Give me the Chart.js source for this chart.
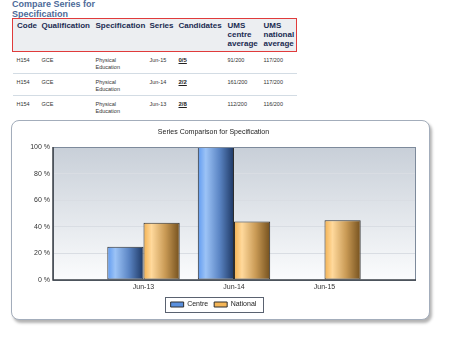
<!DOCTYPE html>
<html>
<head>
<meta charset="utf-8">
<script src="https://cdn.jsdelivr.net/npm/chart.js@4/dist/chart.umd.min.js"></script>
<style>
  body { margin: 0; background: #fff; width: 450px; height: 338px; position: relative; overflow: hidden; font-family: "Liberation Sans", Arial, sans-serif; }
  #heading { position: absolute; left: 12px; top: 0px; font-size: 9px; line-height: 9.5px; font-weight: bold; color: #4d6a99; }
  #specTable { position: absolute; left: 12px; top: 18px; border-collapse: collapse; table-layout: fixed; width: 284px; }
  #specTable th { font-size: 8px; line-height: 9px; font-weight: bold; color: #1b2b52; text-align: left; vertical-align: top;
    padding: 2px 0 3px 4px; background: #eceef1; border-top: 1.5px solid #e03b3b; border-bottom: 1.5px solid #e03b3b; }
  #specTable th:first-child { border-left: 1.5px solid #e03b3b; }
  #specTable th:last-child { border-right: 1.5px solid #e03b3b; }
  #specTable td { font-size: 5.5px; line-height: 7px; color: #333; vertical-align: top; padding: 5px 0 0 4px; height: 16px; }
  #specTable tr.sep td { border-bottom: 1px solid #d3dce4; }
  #specTable td.cand { font-weight: bold; text-decoration: underline; color: #222; font-size: 6px; }
  #panel { position: absolute; left: 11px; top: 120px; width: 417px; height: 198px; border: 1px solid #a3adbb; border-radius: 8px;
    box-shadow: 2px 3px 3px rgba(0,0,0,0.3); background: #fff; }
  #panel canvas { position: absolute; left: 0; top: 0; }
</style>
</head>
<body>
<div id="heading">Compare Series for<br>Specification</div>
<table id="specTable">
  <colgroup>
    <col style="width:25px"><col style="width:54px"><col style="width:54px"><col style="width:29px">
    <col style="width:49px"><col style="width:36px"><col style="width:37px">
  </colgroup>
  <thead>
    <tr><th>Code</th><th>Qualification</th><th>Specification</th><th>Series</th><th>Candidates</th><th>UMS centre average</th><th>UMS national average</th></tr>
  </thead>
  <tbody id="rows"></tbody>
</table>
<div id="panel"><canvas id="seriesChart" width="417" height="198"></canvas></div>
<script>
// table data
const rowSeries = ['Jun-15', 'Jun-14', 'Jun-13'];
const rowCandidates = ['0/5', '2/2', '2/8'];
const rowCentreUms = ['91/200', '161/200', '112/200'];
const rowNationalUms = ['117/200', '117/200', '116/200'];

// chart data
const categories = ['Jun-13', 'Jun-14', 'Jun-15'];
const centreValues = [25, 100, 0];
const nationalValues = [43, 44, 45];
const yTicks = [0, 20, 40, 60, 80, 100];

const tbody = document.getElementById('rows');
rowSeries.forEach((s, i) => {
    const tr = document.createElement('tr');
    if (i < rowSeries.length - 1) tr.className = 'sep';
    tr.innerHTML = '<td>H154</td><td>GCE</td><td>Physical<br>Education</td><td>' + s + '</td><td class="cand">' +
        rowCandidates[i] + '</td><td>' + rowCentreUms[i] + '</td><td>' + rowNationalUms[i] + '</td>';
    tbody.appendChild(tr);
});

// empty slot either side so categories sit on the 1/4 marks
const labels = [''].concat(categories, ['']);
const pad = arr => [null].concat(arr, [null]);

const barColours = [
    { solid: '#5a90de', stops: ['#5f9af0', '#9cc3f6', '#5b85c4', '#1d3763'] },
    { solid: '#f5b657', stops: ['#f3b150', '#ffd99c', '#c99a55', '#74501d'] }
];

function barFill(ctx) {
    const c = barColours[ctx.datasetIndex];
    if (ctx.type !== 'data') return c.solid;
    const chart = ctx.chart;
    const x = chart.scales.x;
    if (!x || !chart.chartArea) return c.solid;
    const centre = x.getPixelForValue(ctx.dataIndex);
    const step = x.getPixelForValue(1) - x.getPixelForValue(0);
    const w = step * 0.8 / 2;
    const left = ctx.datasetIndex === 0 ? centre - w : centre;
    const g = chart.ctx.createLinearGradient(left, 0, left + w, 0);
    g.addColorStop(0, c.stops[0]);
    g.addColorStop(0.22, c.stops[1]);
    g.addColorStop(0.6, c.stops[2]);
    g.addColorStop(1, c.stops[3]);
    return g;
}

const plotBackground = {
    id: 'plotBackground',
    beforeDraw(chart) {
        const { ctx, chartArea: a } = chart;
        const g = ctx.createLinearGradient(0, a.top, 0, a.bottom);
        g.addColorStop(0, '#c8cfd8');
        g.addColorStop(1, '#fbfcfd');
        ctx.save();
        ctx.fillStyle = g;
        ctx.fillRect(a.left, a.top, a.right - a.left, a.bottom - a.top);
        ctx.restore();
    },
    afterDatasetsDraw(chart) {
        const { ctx, chartArea: a } = chart;
        ctx.save();
        ctx.strokeStyle = '#7d8a9b';
        ctx.lineWidth = 1;
        ctx.strokeRect(a.left + 0.5, a.top + 0.5, a.right - a.left, a.bottom - a.top);
        ctx.strokeStyle = '#3d4148';
        ctx.lineWidth = 1.5;
        ctx.beginPath();
        ctx.moveTo(a.left, a.top);
        ctx.lineTo(a.left, a.bottom);
        ctx.lineTo(a.right + 1, a.bottom);
        ctx.stroke();
        ctx.restore();
    },
    afterDraw(chart) {
        const boxes = chart.legend && chart.legend.legendHitBoxes;
        if (!boxes || !boxes.length) return;
        const l = Math.min(...boxes.map(b => b.left)) - 6;
        const r = Math.max(...boxes.map(b => b.left + b.width)) + 6;
        const t = Math.min(...boxes.map(b => b.top)) - 4;
        const bt = Math.max(...boxes.map(b => b.top + b.height)) + 4;
        const ctx = chart.ctx;
        ctx.save();
        ctx.strokeStyle = '#5a6270';
        ctx.lineWidth = 1;
        ctx.strokeRect(Math.round(l) + 0.5, Math.round(t) + 0.5, Math.round(r - l), Math.round(bt - t));
        ctx.restore();
    }
};

const barStyle = {
    backgroundColor: barFill,
    borderColor: '#2e2e2e',
    borderWidth: ctx => (ctx.raw === 0 ? 0 : 1),
    borderSkipped: false
};

new Chart(document.getElementById('seriesChart'), {
    type: 'bar',
    data: {
        labels: labels,
        datasets: [
            Object.assign({ label: 'Centre', data: pad(centreValues) }, barStyle),
            Object.assign({ label: 'National', data: pad(nationalValues) }, barStyle)
        ]
    },
    options: {
        responsive: false,
        animation: false,
        devicePixelRatio: 1,
        categoryPercentage: 0.8,
        barPercentage: 1.0,
        layout: { padding: { left: 0, right: 14, top: 0, bottom: 1 } },
        scales: {
            x: {
                offset: false,
                grid: { display: false, drawTicks: false },
                border: { display: false },
                ticks: { color: '#333', font: { family: 'Liberation Sans', size: 7 }, padding: 3, maxRotation: 0, autoSkip: false },
                afterFit(scale) { scale.height = 15; }
            },
            y: {
                min: 0,
                max: 100,
                afterBuildTicks(scale) { scale.ticks = yTicks.map(v => ({ value: v })); },
                grid: { color: '#d9dde3', drawTicks: false },
                border: { display: false },
                ticks: { color: '#333', font: { family: 'Liberation Sans', size: 7 }, padding: 3, callback: v => v + ' %' },
                afterFit(scale) { scale.width = 41; }
            }
        },
        plugins: {
            colors: { enabled: false },
            title: {
                display: true,
                text: 'Series Comparison for Specification',
                color: '#222',
                font: { family: 'Liberation Sans', size: 7, weight: 'normal' },
                padding: { top: 7, bottom: 10.6 }
            },
            legend: {
                position: 'bottom',
                labels: {
                    color: '#222',
                    font: { family: 'Liberation Sans', size: 7 },
                    boxWidth: 13,
                    boxHeight: 5,
                    padding: 6,
                    generateLabels(chart) {
                        return Chart.defaults.plugins.legend.labels.generateLabels(chart).map((item, i) =>
                            Object.assign(item, { fillStyle: barColours[i].solid, strokeStyle: '#2e2e2e', lineWidth: 1 }));
                    }
                }
            },
            tooltip: { enabled: false }
        }
    },
    plugins: [plotBackground]
});
</script>
</body>
</html>
